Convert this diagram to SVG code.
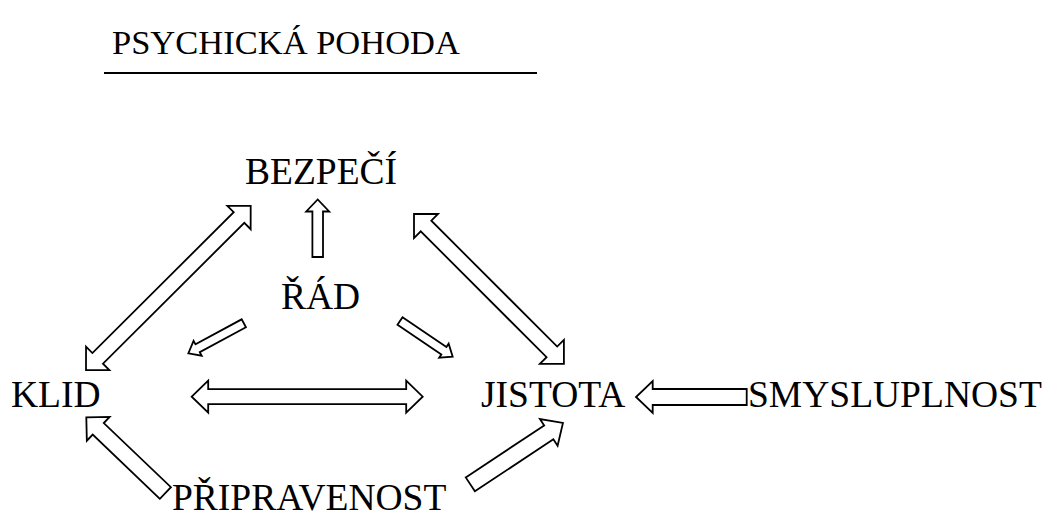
<svg xmlns="http://www.w3.org/2000/svg" width="1045" height="519" viewBox="0 0 1045 519">
<style>
.t{font-family:"Liberation Serif","Times New Roman",serif;font-size:37.5px;fill:#000}
.ttl{font-family:"Liberation Serif","Times New Roman",serif;font-size:34.5px;fill:#000}
.ar{fill:#fff;stroke:#000;stroke-width:1.8;stroke-linejoin:miter}
</style>
<rect width="1045" height="519" fill="#fff"/>
<g id="title">
<text class="ttl" x="112" y="54">PSYCHICKÁ POHODA</text>
<line x1="104" y1="73" x2="537" y2="73" stroke="#000" stroke-width="2"/>
</g>
<g id="bezpeci"><text class="t" x="245" y="184">BEZPEČÍ</text></g>
<g id="rad"><text class="t" x="281" y="309">ŘÁD</text></g>
<g id="klid"><text class="t" x="11" y="407">KLID</text></g>
<g id="jistota"><text class="t" x="481" y="407">JISTOTA</text></g>
<g id="smysluplnost"><text class="t" x="748" y="407">SMYSLUPLNOST</text></g>
<g id="pripravenost"><text class="t" x="172" y="510">PŘIPRAVENOST</text></g>
<g id="connectors">
<!-- KLID <-> BEZPECI -->
<polygon class="ar" transform="translate(86,370) rotate(-44.9)" points="0,0 16.5,-16.5 16.5,-7.5 216,-7.5 216,-16.5 232.5,0 216,16.5 216,7.5 16.5,7.5 16.5,16.5"/>
<!-- BEZPECI <-> JISTOTA -->
<polygon class="ar" transform="translate(414,214) rotate(45)" points="0,0 17,-17 17,-7.5 195,-7.5 195,-17 212,0 195,17 195,7.5 17,7.5 17,17"/>
<!-- RAD -> KLID -->
<polygon class="ar" transform="translate(243.8,323.3) rotate(151.6)" points="0,-4.5 52.5,-4.5 52.5,-8.5 63,0 52.5,8.5 52.5,4.5 0,4.5"/>
<!-- RAD -> JISTOTA -->
<polygon class="ar" transform="translate(400,321) rotate(34.1)" points="0,-4.5 53,-4.5 53,-8.5 63.6,0 53,8.5 53,4.5 0,4.5"/>
<!-- RAD -> BEZPECI -->
<polygon class="ar" transform="translate(317.7,257) rotate(-90)" points="0,-5.3 45.5,-5.3 45.5,-11.5 57.5,0 45.5,11.5 45.5,5.3 0,5.3"/>
<!-- KLID <-> JISTOTA -->
<polygon class="ar" transform="translate(191.7,396.7)" points="0,0 16.5,-16 16.5,-7.5 214.5,-7.5 214.5,-16 231,0 214.5,16 214.5,7.5 16.5,7.5 16.5,16"/>
<!-- SMYSLUPLNOST -> JISTOTA -->
<polygon class="ar" transform="translate(746.7,397) rotate(180)" points="0,-8 94,-8 94,-16 110.7,0 94,16 94,8 0,8"/>
<!-- PRIPRAVENOST -> KLID -->
<polygon class="ar" transform="translate(165.4,493) rotate(-136.3)" points="0,-8 92.9,-8 92.9,-16.5 109.4,0 92.9,16.5 92.9,8 0,8"/>
<!-- PRIPRAVENOST -> JISTOTA -->
<polygon class="ar" transform="translate(470.3,484.3) rotate(-33.5)" points="0,-8.3 94.1,-8.3 94.1,-16 111.1,0 94.1,16 94.1,8.3 0,8.3"/>
</g>
</svg>
